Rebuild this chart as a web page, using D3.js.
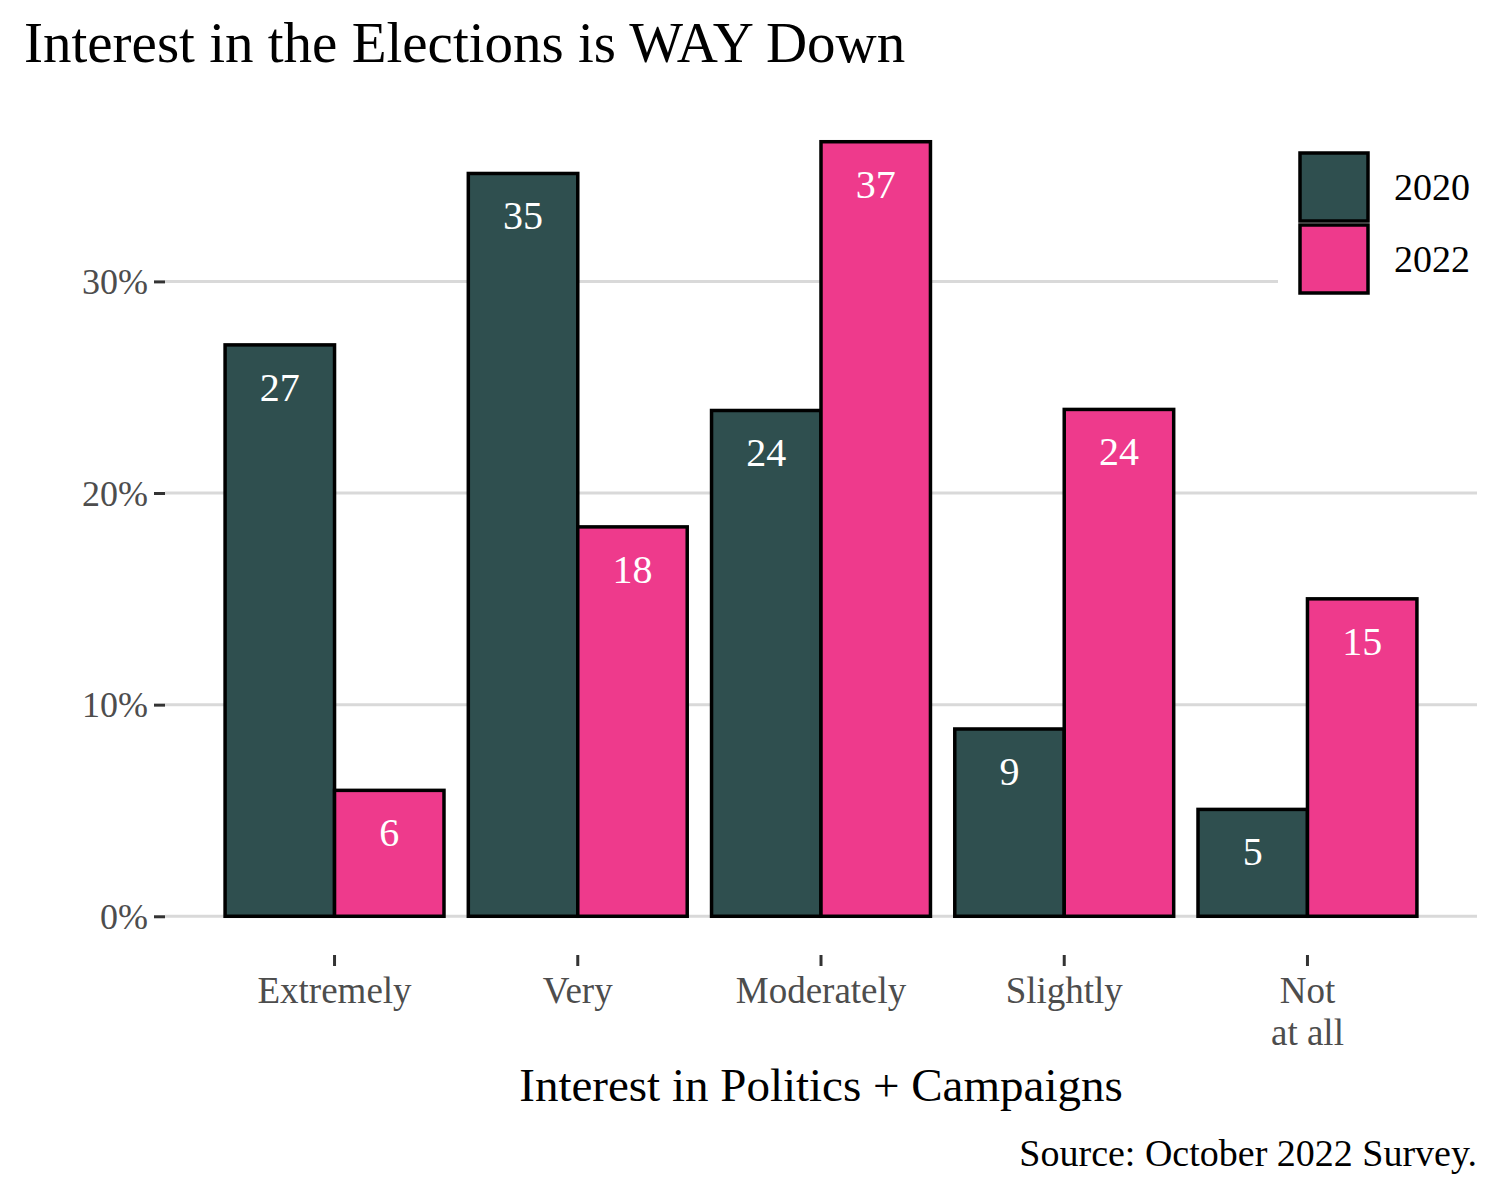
<!DOCTYPE html>
<html>
<head>
<meta charset="utf-8">
<script src="https://cdn.jsdelivr.net/npm/d3@7"></script>
<style>
  body { margin: 0; background: #fff; }
  text { font-family: "Liberation Serif", "DejaVu Serif", serif; }
</style>
</head>
<body>
<svg width="1500" height="1200"></svg>
<script>
// data
var categories = ["Extremely", "Very", "Moderately", "Slightly", "Not\nat all"];
var years = ["2020", "2022"];
var values2020 = [27.0, 35.1, 23.9, 8.85, 5.05];
var values2022 = [5.95, 18.4, 36.6, 23.95, 15.0];
var yTicks = [0, 10, 20, 30];
var colors = ["#2f4f4f", "#ee3a8c"];

var svg = d3.select("svg"),
    margin = {top: 103, right: 23, bottom: 245, left: 165},
    width = 1500 - margin.left - margin.right,
    height = 1200 - margin.top - margin.bottom,
    chartGroup = svg.append("g").attr("transform", "translate(" + margin.left + "," + margin.top + ")");

var rows = categories.map(function(c, i) {
  return {cat: c, vals: [{year: "2020", v: values2020[i]}, {year: "2022", v: values2022[i]}]};
});

var xScale = d3.scaleBand()
    .domain(categories)
    .range([0, width])
    .paddingInner(0.1)
    .paddingOuter(0.247);
var xSub = d3.scaleBand()
    .domain(years)
    .range([0, xScale.bandwidth()]);
var yScale = d3.scaleLinear()
    .domain([-1.83, 38.43])
    .range([height, 0]);
var zColor = d3.scaleOrdinal().domain(years).range(colors);

// gridlines
chartGroup.selectAll(".grid")
  .data(yTicks)
  .enter().append("line")
    .attr("x1", 0).attr("x2", width)
    .attr("y1", function(d) { return yScale(d); })
    .attr("y2", function(d) { return yScale(d); })
    .style("stroke", "#d9d9d9")
    .style("stroke-width", 3);

// bars
var group = chartGroup.selectAll(".cat")
  .data(rows)
  .enter().append("g")
    .attr("class", "cat")
    .attr("transform", function(d) { return "translate(" + xScale(d.cat) + ",0)"; });

group.selectAll("rect")
  .data(function(d) { return d.vals; })
  .enter().append("rect")
    .attr("x", function(d) { return xSub(d.year); })
    .attr("width", xSub.bandwidth())
    .attr("y", function(d) { return yScale(d.v); })
    .attr("height", function(d) { return yScale(0) - yScale(d.v); })
    .style("fill", function(d) { return zColor(d.year); })
    .style("stroke", "#000")
    .style("stroke-width", 3.5);

group.selectAll(".lbl")
  .data(function(d) { return d.vals; })
  .enter().append("text")
    .attr("class", "lbl")
    .attr("x", function(d) { return xSub(d.year) + xSub.bandwidth() / 2; })
    .attr("y", function(d) { return yScale(d.v) + 56; })
    .attr("text-anchor", "middle")
    .style("fill", "#fff")
    .style("font-size", "40px")
    .text(function(d) { return d3.format(".0f")(d.v); });

// y axis
var yAxis = chartGroup.append("g")
    .call(d3.axisLeft(yScale).tickValues(yTicks).tickSize(11).tickPadding(6)
      .tickFormat(function(d) { return d + "%"; }));
yAxis.select(".domain").remove();
yAxis.selectAll("line").style("stroke", "#333").style("stroke-width", 3);
yAxis.selectAll("text").style("font-size", "36px").style("fill", "#4d4d4d")
    .attr("dy", "0.34em").style("font-family", "Liberation Serif, serif");

// x axis
var xAxis = chartGroup.append("g")
    .attr("transform", "translate(0," + height + ")")
    .call(d3.axisBottom(xScale).tickSize(11).tickFormat(""));
xAxis.select(".domain").remove();
xAxis.selectAll("line").style("stroke", "#333").style("stroke-width", 3);

xAxis.selectAll(".tick").each(function(d) {
  var t = d3.select(this).append("text")
      .attr("text-anchor", "middle")
      .style("fill", "#4d4d4d")
      .style("font-size", "37px")
      .style("font-family", "Liberation Serif, serif");
  d.split("\n").forEach(function(line, i) {
    t.append("tspan").attr("x", 0).attr("y", 48 + i * 42).text(line);
  });
});

// legend
var legend = svg.append("g").attr("transform", "translate(1300,153)");
legend.append("rect")
    .attr("x", -22).attr("y", -12).attr("width", 200).attr("height", 162)
    .style("fill", "#fff");
years.forEach(function(y, i) {
  legend.append("rect")
      .attr("x", 0).attr("y", i * 72)
      .attr("width", 68).attr("height", 68)
      .style("fill", zColor(y))
      .style("stroke", "#000")
      .style("stroke-width", 3.5);
  legend.append("text")
      .attr("x", 94).attr("y", i * 72 + 34)
      .attr("dy", "0.35em")
      .style("font-size", "38px")
      .text(y);
});

// titles
svg.append("text")
    .attr("x", 24).attr("y", 62)
    .style("font-size", "57px")
    .text("Interest in the Elections is WAY Down");

svg.append("text")
    .attr("x", margin.left + width / 2).attr("y", 1101)
    .attr("text-anchor", "middle")
    .style("font-size", "47px")
    .text("Interest in Politics + Campaigns");

svg.append("text")
    .attr("x", 1477).attr("y", 1166)
    .attr("text-anchor", "end")
    .style("font-size", "38px")
    .text("Source: October 2022 Survey.");
</script>
</body>
</html>
